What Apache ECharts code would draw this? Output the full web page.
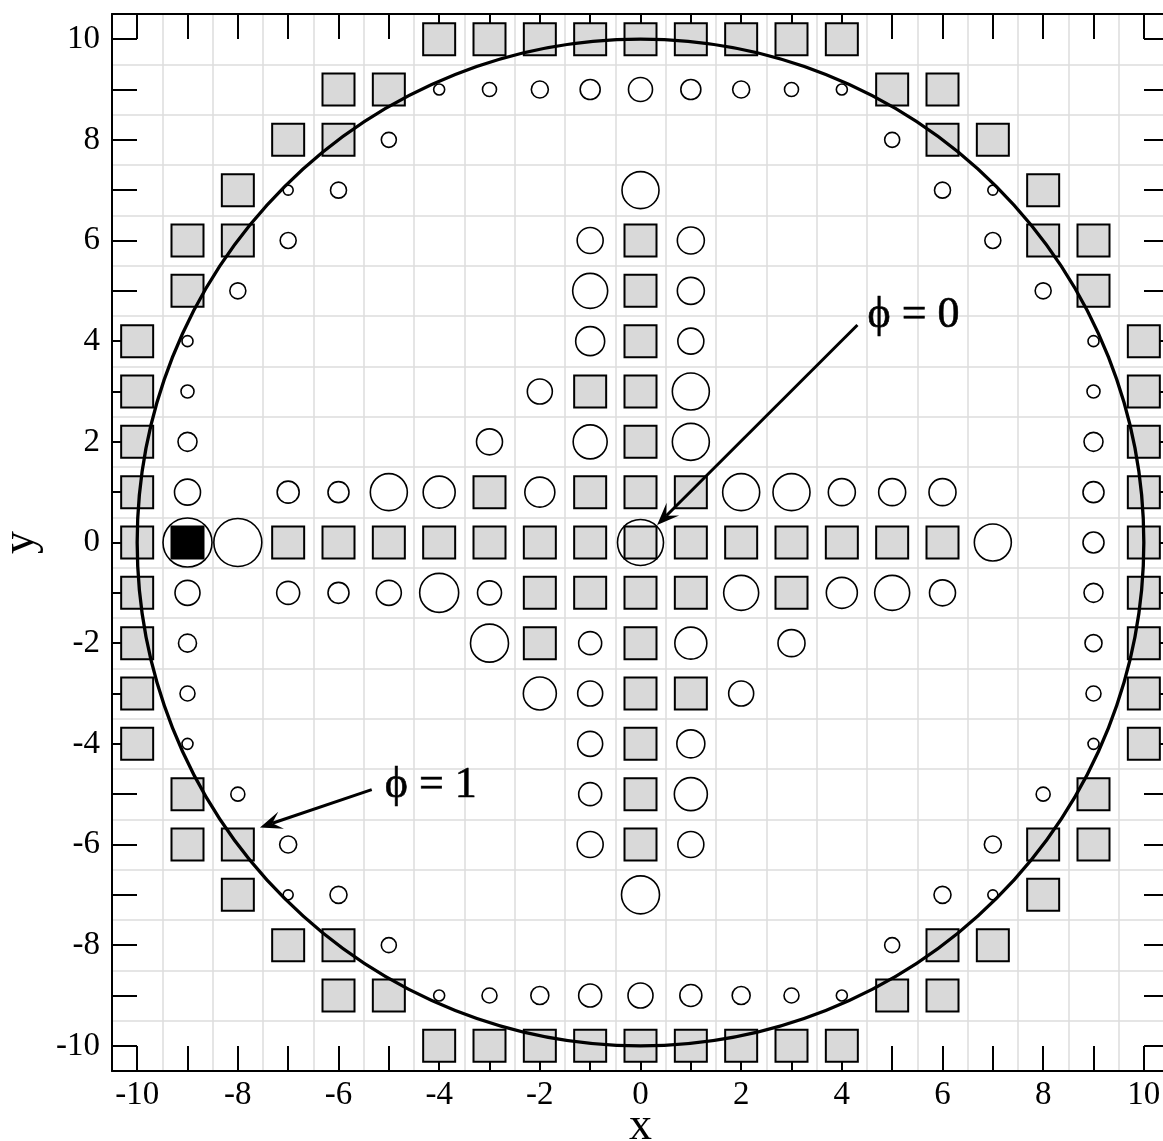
<!DOCTYPE html>
<html>
<head>
<meta charset="utf-8">
<title>phi lattice</title>
<script src="https://cdn.jsdelivr.net/npm/echarts@6.0.0/dist/echarts.min.js"></script>
<style>
  html, body { margin: 0; padding: 0; background: #fff; }
  #chart { width: 1163px; height: 1141px; }
</style>
</head>
<body>
<div id="chart"></div>
<script>
// axis ticks / labels
const tickValues = [-10, -9, -8, -7, -6, -5, -4, -3, -2, -1, 0, 1, 2, 3, 4, 5, 6, 7, 8, 9, 10]
const labelValues = [-10, -8, -6, -4, -2, 0, 2, 4, 6, 8, 10]

// grey lattice squares [x, y]
const squares = [
  [-4, 10], [-3, 10], [-2, 10], [-1, 10], [0, 10], [1, 10], [2, 10], [3, 10], [4, 10],
  [-6, 9], [-5, 9], [5, 9], [6, 9],
  [-7, 8], [-6, 8], [6, 8], [7, 8],
  [-8, 7], [8, 7],
  [-9, 6], [-8, 6], [0, 6], [8, 6], [9, 6],
  [-9, 5], [0, 5], [9, 5],
  [-10, 4], [0, 4], [10, 4],
  [-10, 3], [-1, 3], [0, 3], [10, 3],
  [-10, 2], [0, 2], [10, 2],
  [-10, 1], [-3, 1], [-1, 1], [0, 1], [1, 1], [10, 1],
  [-10, 0], [-7, 0], [-6, 0], [-5, 0], [-4, 0], [-3, 0], [-2, 0], [-1, 0], [0, 0],
  [1, 0], [2, 0], [3, 0], [4, 0], [5, 0], [6, 0], [10, 0],
  [-10, -1], [-2, -1], [-1, -1], [0, -1], [1, -1], [3, -1], [10, -1],
  [-10, -2], [-2, -2], [0, -2], [10, -2],
  [-10, -3], [0, -3], [1, -3], [10, -3],
  [-10, -4], [0, -4], [10, -4],
  [-9, -5], [0, -5], [9, -5],
  [-9, -6], [-8, -6], [0, -6], [8, -6], [9, -6],
  [-8, -7], [8, -7],
  [-7, -8], [-6, -8], [6, -8], [7, -8],
  [-6, -9], [-5, -9], [5, -9], [6, -9],
  [-4, -10], [-3, -10], [-2, -10], [-1, -10], [0, -10], [1, -10], [2, -10], [3, -10], [4, -10]
]

// the one filled site
const blackSquares = [[-9, 0]]

// open circles [x, y, weight]
const circles = [
  [-4, 9, 11], [-3, 9, 14], [-2, 9, 17], [-1, 9, 20], [0, 9, 24], [1, 9, 20], [2, 9, 17], [3, 9, 14], [4, 9, 11],
  [-5, 8, 15], [5, 8, 15],
  [-7, 7, 10], [-6, 7, 16], [0, 7, 37], [6, 7, 16], [7, 7, 10],
  [-7, 6, 16], [-1, 6, 26], [1, 6, 27], [7, 6, 16],
  [-8, 5, 16], [-1, 5, 35], [1, 5, 27], [8, 5, 16],
  [-9, 4, 11], [-1, 4, 29], [1, 4, 26], [9, 4, 11],
  [-9, 3, 13], [-2, 3, 25], [1, 3, 37], [9, 3, 13],
  [-9, 2, 19], [-3, 2, 26], [-1, 2, 34], [1, 2, 37], [9, 2, 19],
  [-9, 1, 26], [-7, 1, 22], [-6, 1, 21], [-5, 1, 37], [-4, 1, 32], [-2, 1, 30],
  [2, 1, 37], [3, 1, 37], [4, 1, 27], [5, 1, 27], [6, 1, 27], [9, 1, 21],
  [-9, 0, 49], [-8, 0, 48], [0, 0, 46], [7, 0, 37], [9, 0, 21],
  [-9, -1, 25], [-7, -1, 23], [-6, -1, 21], [-5, -1, 25], [-4, -1, 39], [-3, -1, 24],
  [2, -1, 35], [4, -1, 31], [5, -1, 35], [6, -1, 26], [9, -1, 19],
  [-9, -2, 18], [-3, -2, 38], [-1, -2, 23], [1, -2, 32], [3, -2, 27], [9, -2, 17],
  [-9, -3, 15], [-2, -3, 33], [-1, -3, 25], [2, -3, 25], [9, -3, 15],
  [-9, -4, 11], [-1, -4, 25], [1, -4, 28], [9, -4, 11],
  [-8, -5, 14], [-1, -5, 23], [1, -5, 33], [8, -5, 14],
  [-7, -6, 17], [-1, -6, 26], [1, -6, 26], [7, -6, 17],
  [-7, -7, 10], [-6, -7, 17], [0, -7, 38], [6, -7, 17], [7, -7, 10],
  [-5, -8, 15], [5, -8, 15],
  [-4, -9, 11], [-3, -9, 15], [-2, -9, 18], [-1, -9, 23], [0, -9, 25], [1, -9, 22], [2, -9, 18], [3, -9, 15], [4, -9, 11]
]

// big ring [cx, cy, radius]
const ring = [[0, 0, 10]]

// annotations
const arrowFrom = [[4.31, 4.32], [-5.34, -4.91]]
const arrowTo = [[0.33, 0.35], [-7.56, -5.66]]
const notes = [[4.51, 4.52, 'ϕ = 0'], [-5.08, -4.82, 'ϕ = 1']]

const serif = "'Liberation Serif', 'DejaVu Serif', serif"
const black = '#000'

// one visible axis with ticks/labels, one mirrored, one only for the grid lines
const tickAxis = (pos, withLabels) => ({
  type: 'value',
  position: pos,
  min: -10.5,
  max: 10.5,
  interval: 1,
  axisLine: { show: true, onZero: false, lineStyle: { color: black, width: 2 } },
  axisTick: { show: true, inside: true, length: 25, customValues: tickValues, lineStyle: { color: black, width: 2 } },
  axisLabel: {
    show: withLabels,
    customValues: labelValues,
    fontFamily: serif,
    fontSize: 33,
    color: black,
    margin: pos === 'bottom' ? 8 : 12
  },
  splitLine: { show: false }
})

const gridAxis = (pos) => ({
  type: 'value',
  position: pos,
  min: -10.5,
  max: 10.5,
  interval: 1,
  axisLine: { show: false },
  axisTick: { show: false },
  axisLabel: { show: false },
  splitLine: { show: true, lineStyle: { color: '#dddddd', width: 1.5 } }
})

const xMain = tickAxis('bottom', true)
xMain.name = 'x'
xMain.nameLocation = 'middle'
xMain.nameGap = 33
xMain.nameMoveOverlap = false
xMain.nameTextStyle = { fontFamily: serif, fontSize: 46, color: black }

const yMain = tickAxis('left', true)
yMain.name = 'y'
yMain.nameLocation = 'middle'
yMain.nameGap = 68
yMain.nameMoveOverlap = false
yMain.nameTextStyle = { fontFamily: serif, fontSize: 46, color: black }

// line plus a notched arrow head, drawn in pixel space from the axis scales
const renderArrow = (params, api) => {
  const p0 = api.coord([api.value(0), api.value(1)])
  const p1 = api.coord([api.value(2), api.value(3)])
  const a = Math.atan2(p1[1] - p0[1], p1[0] - p0[0])
  const back = (d, ang) => [p1[0] - d * Math.cos(a + ang), p1[1] - d * Math.sin(a + ang)]
  const neck = back(13, 0)
  return {
    type: 'group',
    children: [
      {
        type: 'line',
        shape: { x1: p0[0], y1: p0[1], x2: neck[0], y2: neck[1] },
        style: { stroke: black, lineWidth: 3 }
      },
      {
        type: 'polygon',
        shape: { points: [p1, back(24, 0.38), neck, back(24, -0.38)] },
        style: { fill: black }
      }
    ]
  }
}

const chart = echarts.init(document.getElementById('chart'), null, { renderer: 'canvas' })

chart.setOption({
  animation: false,
  backgroundColor: '#fff',
  grid: { left: 112, top: 14, width: 1057, height: 1057, containLabel: false, outerBoundsMode: 'none' },
  xAxis: [xMain, tickAxis('top', false), gridAxis('bottom')],
  yAxis: [yMain, tickAxis('right', false), gridAxis('left')],
  series: [
    {
      type: 'scatter',
      data: squares,
      symbol: 'rect',
      symbolSize: 32,
      itemStyle: { color: '#d9d9d9', borderColor: black, borderWidth: 2, opacity: 1 },
      silent: true,
      z: 2
    },
    {
      type: 'scatter',
      data: blackSquares,
      symbol: 'rect',
      symbolSize: 32,
      itemStyle: { color: black, borderColor: black, borderWidth: 2, opacity: 1 },
      silent: true,
      z: 2
    },
    {
      type: 'custom',
      data: ring,
      silent: true,
      z: 3,
      renderItem: (params, api) => {
        const c = api.coord([api.value(0), api.value(1)])
        const r = api.size([api.value(2), 0])[0]
        return {
          type: 'circle',
          shape: { cx: c[0], cy: c[1], r: r },
          style: { fill: 'none', stroke: black, lineWidth: 3.3 }
        }
      }
    },
    {
      type: 'scatter',
      data: circles,
      symbol: 'circle',
      symbolSize: d => d[2],
      itemStyle: { color: 'rgba(0,0,0,0)', borderColor: black, borderWidth: 1.6, opacity: 1 },
      silent: true,
      z: 4
    },
    {
      type: 'custom',
      data: arrowFrom.map((f, i) => [f[0], f[1], arrowTo[i][0], arrowTo[i][1]]),
      encode: { x: [0, 2], y: [1, 3] },
      silent: true,
      z: 5,
      renderItem: renderArrow
    },
    {
      type: 'scatter',
      data: notes.map(n => ({ value: [n[0], n[1]], name: n[2] })),
      symbolSize: 0,
      silent: true,
      z: 5,
      label: {
        show: true,
        position: 'right',
        distance: 0,
        formatter: p => p.name,
        fontFamily: serif,
        fontSize: 44,
        color: black,
        opacity: 1,
        textBorderColor: black,
        textBorderWidth: 0.6
      }
    }
  ]
})
</script>
</body>
</html>
